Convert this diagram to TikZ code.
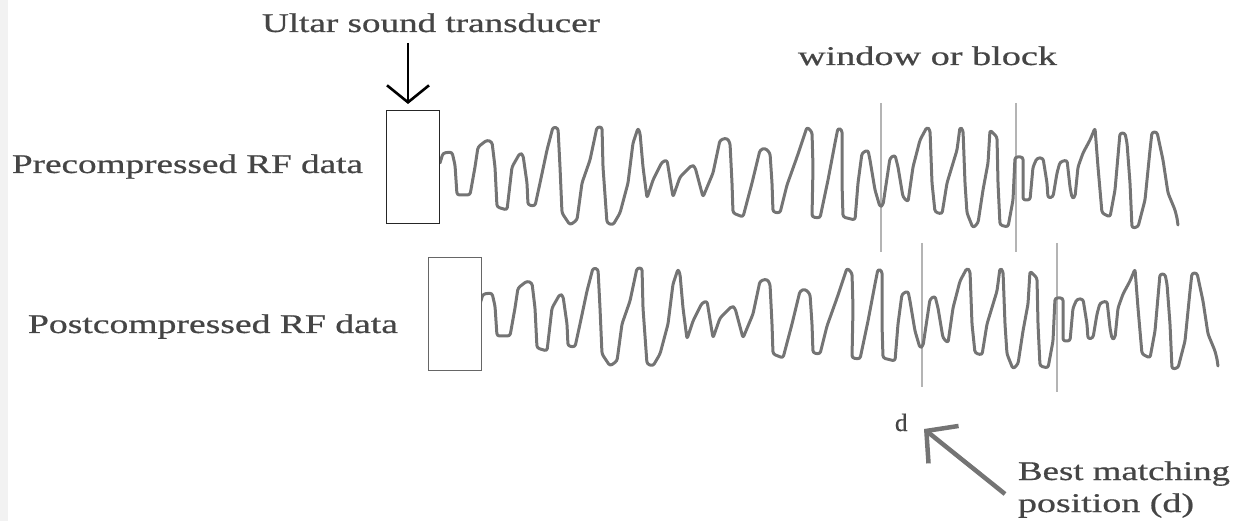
\documentclass[tikz,border=0pt]{standalone}
\usepackage{fontspec}
\setmainfont{Liberation Serif}
\newfontfamily\lblfont{Liberation Serif}[FakeBold=0.6]
\usetikzlibrary{arrows.meta}
\definecolor{ink}{HTML}{454545}
\definecolor{wave}{HTML}{747474}
\definecolor{winline}{HTML}{B4B4B4}
\definecolor{edge}{HTML}{F2F2F2}
% label text stretched to a given width, natural height kept
\newcommand{\wlabel}[2]{\resizebox{#1pt}{\height}{#2}}
% one RF trace; the option argument carries the shift
\newcommand{\rfwave}[1]{%
  \draw[trace,#1] (440,163) -- (443,153) -- (452,152) -- (455,165) -- (457,195) -- (470,195)
    -- (475,167) -- (478,147) -- (487,140) -- (492,142) -- (495,167) -- (497,207) -- (507,210)
    -- (512,167) -- (520,153) -- (523,155) -- (527,183) -- (528,205) -- (535,206)
    -- (540,183) -- (547,150) -- (553,127) -- (558,128) -- (560,167) -- (562,213) -- (570,225) -- (577,220)
    -- (582,183) -- (590,160) -- (597,127) -- (602,127) -- (603,167) -- (607,223) -- (613,225) -- (620,213)
    -- (628,183) -- (633,143) -- (638,128) -- (640,133) -- (643,167) -- (647,198)
    -- (653,180) -- (662,162) -- (667,160) -- (673,197)
    -- (680,177) -- (692,165) -- (695,167) -- (703,197)
    -- (713,173) -- (720,140) -- (727,138) -- (730,143) -- (732,183) -- (733,213) -- (743,217)
    -- (752,183) -- (760,150) -- (765,148) -- (770,153) -- (772,183) -- (773,212) -- (780,213)
    -- (787,185) -- (797,157) -- (807,127) -- (812,132) -- (813,167) -- (812,217) -- (820,218)
    -- (828,180) -- (835,143) -- (838,128) -- (842,130) -- (842,183) -- (843,217) -- (855,220)
    -- (858,183) -- (862,153) -- (868,150) -- (870,160) -- (875,190) -- (880,207) -- (883,205)
    -- (890,158) -- (895,155) -- (898,167) -- (903,197) -- (908,202)
    -- (913,167) -- (920,140) -- (927,127) -- (930,130) -- (932,183) -- (935,212) -- (942,214)
    -- (947,183) -- (957,150) -- (960,127) -- (963,130) -- (965,183) -- (967,213) -- (973,228) -- (978,223)
    -- (983,190) -- (988,163) -- (990,130) -- (997,137) -- (998,183) -- (1000,225) -- (1008,227)
    -- (1013,200) -- (1015,157) -- (1023,157) -- (1023,200) -- (1030,200)
    -- (1033,167) -- (1037,158) -- (1043,158) -- (1047,183) -- (1048,198) -- (1053,197)
    -- (1057,173) -- (1060,162) -- (1067,160) -- (1070,187) -- (1072,198) -- (1075,197)
    -- (1078,167) -- (1083,153) -- (1090,140) -- (1095,128) -- (1098,167) -- (1102,213) -- (1110,217)
    -- (1115,190) -- (1120,133) -- (1125,133) -- (1127,143) -- (1130,183) -- (1132,228) -- (1138,227)
    -- (1145,200) -- (1150,150) -- (1152,132) -- (1157,132) -- (1163,160) -- (1168,193)
    -- (1175,210) -- (1177,218) -- (1178,225);}

\begin{document}
\begin{tikzpicture}[x=1pt,y=-1pt,
  lbl/.style={inner sep=0pt, outer sep=0pt, text=ink, anchor=base west,
              font=\lblfont\fontsize{27}{30}\selectfont},
  probe/.style={draw=#1, line width=1.3pt, fill=white, inner sep=0pt,
                minimum width=53pt, minimum height=113pt, anchor=north west},
  trace/.style={draw=wave, line width=3pt, line join=round, line cap=round,
                rounded corners=2.5pt},
  winmark/.style={draw=winline, line width=1.2pt},
  downarrow/.style={draw=black, line width=2.6pt,
                    -{Straight Barb[length=17pt, width=42pt, line width=2.6pt]}},
  pointer/.style={draw=wave, line width=4.5pt,
                  -{Straight Barb[length=22pt, width=48pt, line width=4.5pt]}}]

\useasboundingbox (0,0) rectangle (1248,521);
\fill[edge] (0,0) rectangle (8,521);

% window / block markers
\draw[winmark] (881,103) -- (881,252);
\draw[winmark] (1016,103) -- (1016,252);
\draw[winmark] (922,243) -- (922,387);
\draw[winmark] (1057,243) -- (1057,392);

% RF traces, before and after compression
\rfwave{}
\rfwave{shift={(40,141)}}

% transducer blocks
\node[probe=black!85] (pre) at (386,110) {};
\node[probe=black!60] (post) at (428,257) {};

% labels
\node[lbl] (ultar) at (262,32) {\wlabel{338}{Ultar sound transducer}};
\node[lbl] (win) at (798,65) {\wlabel{259}{window or block}};
\node[lbl] (prelbl) at (12,173) {\wlabel{351}{Precompressed RF data}};
\node[lbl] (postlbl) at (28,333) {\wlabel{370}{Postcompressed RF data}};
\node[lbl, font=\lblfont\fontsize{25}{28}\selectfont] (dlbl) at (895,431) {d};
\node[lbl] (bm1) at (1018,480) {\wlabel{212}{Best matching}};
\node[lbl] (bm2) at (1018,512) {\wlabel{176}{position (d)}};

% arrows
\coordinate (tdA) at (408,43);
\coordinate (tdB) at (408,104);
\draw[downarrow] (tdA) -- (tdB);
\coordinate (bmA) at (1005,494);
\coordinate (bmB) at (924,429);
\draw[pointer] (bmA) -- (bmB);
\end{tikzpicture}
\end{document}
